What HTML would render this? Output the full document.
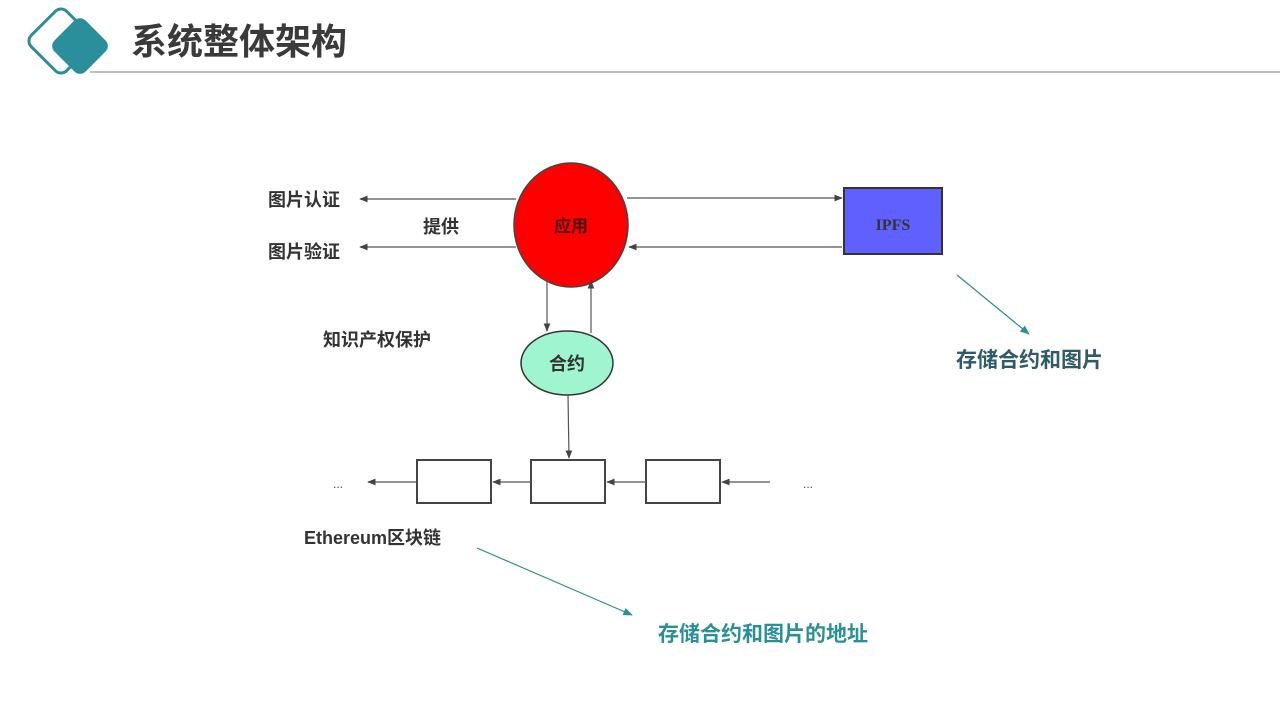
<!DOCTYPE html>
<html><head><meta charset="utf-8"><style>
body{margin:0;width:1280px;height:720px;background:#fff;overflow:hidden;font-family:"Liberation Sans","Noto Sans CJK SC",sans-serif}
</style></head><body>
<svg width="1280" height="720" viewBox="0 0 1280 720" xmlns="http://www.w3.org/2000/svg" font-family="Liberation Sans, Noto Sans CJK SC, sans-serif">
<defs>
<marker id="a" viewBox="0 0 10 10" refX="9" refY="5" markerWidth="7" markerHeight="7" orient="auto-start-reverse"><path d="M0,1 L10,5 L0,9 z" fill="#444"/></marker>
<marker id="t" viewBox="0 0 10 10" refX="9" refY="5" markerWidth="8" markerHeight="8" orient="auto"><path d="M0,1 L10,5 L0,9 z" fill="#2a9090"/></marker>
</defs>
<!-- header -->
<rect x="36" y="16" width="50" height="50" rx="8" transform="rotate(45 61 41)" fill="none" stroke="#2e8e98" stroke-width="3"/>
<rect x="58" y="24" width="44" height="44" rx="8" transform="rotate(45 80 46)" fill="#2a8f9a"/>
<line x1="90" y1="72" x2="1280" y2="72" stroke="#aaa" stroke-width="1.5"/>
<text x="131" y="54" font-size="36" font-weight="bold" fill="#3a3a3a">系统整体架构</text>
<!-- app circle -->
<ellipse cx="571" cy="225" rx="57" ry="62" fill="#ff0000" stroke="#444" stroke-width="1.5"/>
<text x="571" y="232" font-size="17" font-weight="bold" fill="#4a1010" text-anchor="middle">应用</text>
<!-- left arrows -->
<line x1="516" y1="199" x2="360" y2="199" stroke="#555" stroke-width="1.2" marker-end="url(#a)"/>
<line x1="516" y1="247" x2="360" y2="247" stroke="#555" stroke-width="1.2" marker-end="url(#a)"/>
<text x="268" y="206" font-size="18" font-weight="bold" fill="#333">图片认证</text>
<text x="268" y="258" font-size="18" font-weight="bold" fill="#333">图片验证</text>
<text x="423" y="233" font-size="18" font-weight="bold" fill="#333">提供</text>
<!-- IPFS -->
<line x1="627" y1="198" x2="842" y2="198" stroke="#555" stroke-width="1.2" marker-end="url(#a)"/>
<line x1="842" y1="247" x2="629" y2="247" stroke="#555" stroke-width="1.2" marker-end="url(#a)"/>
<rect x="844" y="188" width="98" height="66" fill="#6060ff" stroke="#333" stroke-width="2"/>
<text x="893" y="230" font-size="16" font-weight="bold" fill="#333" text-anchor="middle" font-family="Liberation Serif, serif">IPFS</text>
<!-- vertical arrows -->
<line x1="547" y1="280" x2="547" y2="331" stroke="#555" stroke-width="1.2" marker-end="url(#a)"/>
<line x1="591" y1="333" x2="591" y2="281" stroke="#555" stroke-width="1.2" marker-end="url(#a)"/>
<text x="323" y="346" font-size="18" font-weight="bold" fill="#333">知识产权保护</text>
<ellipse cx="567" cy="363" rx="46" ry="32" fill="#9ff5cf" stroke="#333" stroke-width="1.5"/>
<text x="567" y="370" font-size="18" font-weight="bold" fill="#333" text-anchor="middle">合约</text>
<line x1="568" y1="395" x2="569" y2="458" stroke="#555" stroke-width="1.2" marker-end="url(#a)"/>
<!-- chain -->
<rect x="417" y="460" width="74" height="43" fill="#fff" stroke="#444" stroke-width="2"/>
<rect x="531" y="460" width="74" height="43" fill="#fff" stroke="#444" stroke-width="2"/>
<rect x="646" y="460" width="74" height="43" fill="#fff" stroke="#444" stroke-width="2"/>
<line x1="770" y1="482" x2="722" y2="482" stroke="#555" stroke-width="1.2" marker-end="url(#a)"/>
<line x1="646" y1="482" x2="607" y2="482" stroke="#555" stroke-width="1.2" marker-end="url(#a)"/>
<line x1="531" y1="482" x2="493" y2="482" stroke="#555" stroke-width="1.2" marker-end="url(#a)"/>
<line x1="417" y1="482" x2="368" y2="482" stroke="#555" stroke-width="1.2" marker-end="url(#a)"/>
<text x="333" y="488" font-size="12" fill="#444">...</text>
<text x="803" y="488" font-size="12" fill="#444">...</text>
<text x="304" y="544" font-size="18" font-weight="bold" fill="#333">Ethereum区块链</text>
<!-- teal annotations -->
<line x1="957" y1="275" x2="1029" y2="334" stroke="#2a9090" stroke-width="1.2" marker-end="url(#t)"/>
<text x="956" y="367" font-size="21" font-weight="bold" fill="#2f5a6a">存储合约和图片</text>
<line x1="477" y1="548" x2="632" y2="615" stroke="#2a9090" stroke-width="1.2" marker-end="url(#t)"/>
<text x="658" y="641" font-size="21" font-weight="bold" fill="#2a9098">存储合约和图片的地址</text>
</svg>
</body></html>
